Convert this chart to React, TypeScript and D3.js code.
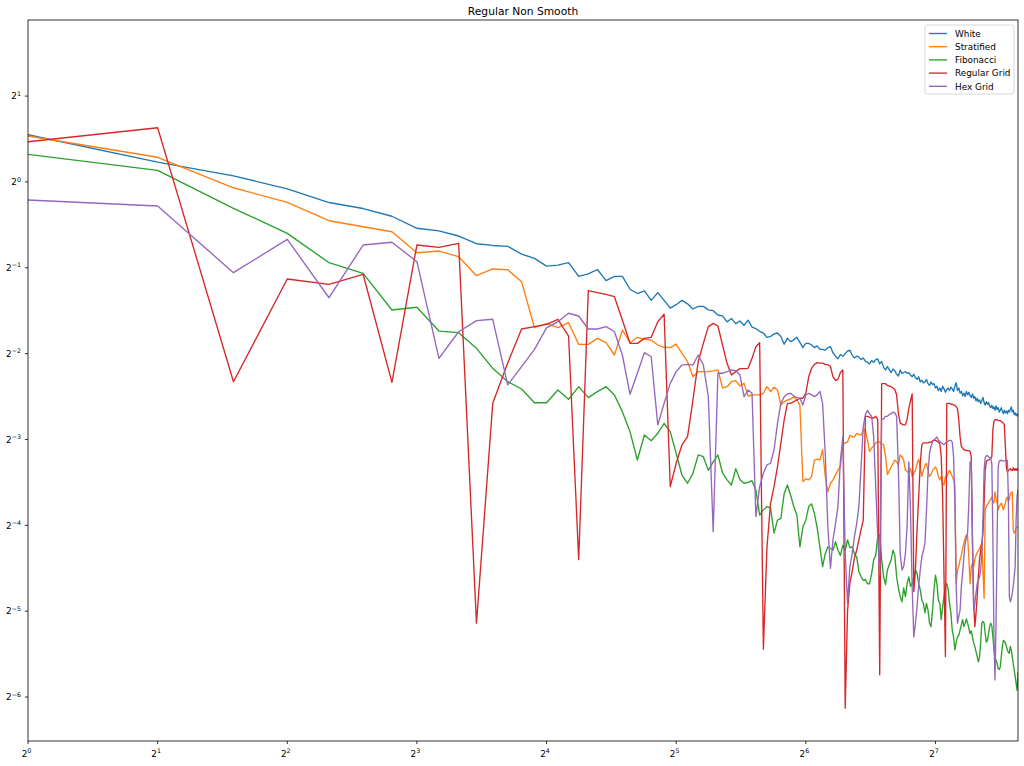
import React, { useEffect } from 'react';
import * as d3 from 'd3';

// sample index (x axis, log2 scale)
const xValues: number[] = d3.range(1, 200);

// power values, stored as log2 exponents (value = 2 ** exponent)
const whiteLog2 = [
  0.55, 0.23, 0.07, -0.08, -0.24, -0.31, -0.40, -0.54, -0.57, -0.63,
  -0.72, -0.74, -0.75, -0.84, -0.89, -0.98, -0.97, -0.94, -1.10, -1.07,
  -1.02, -1.15, -1.10, -1.10, -1.25, -1.30, -1.27, -1.38, -1.29, -1.38,
  -1.47, -1.43, -1.38, -1.42, -1.48, -1.45, -1.45, -1.49, -1.50, -1.55,
  -1.56, -1.63, -1.59, -1.65, -1.62, -1.67, -1.61, -1.69, -1.71, -1.74,
  -1.76, -1.81, -1.80, -1.77, -1.76, -1.80, -1.89, -1.82, -1.86, -1.84,
  -1.81, -1.87, -1.93, -1.88, -1.88, -1.90, -1.93, -1.91, -1.95, -1.95,
  -1.96, -1.93, -1.92, -1.99, -2.03, -2.06, -2.01, -2.03, -2.00, -1.97,
  -1.96, -2.02, -2.05, -2.03, -2.04, -2.07, -2.05, -2.09, -2.10, -2.12,
  -2.08, -2.10, -2.07, -2.06, -2.12, -2.09, -2.16, -2.19, -2.15, -2.19,
  -2.22, -2.18, -2.20, -2.24, -2.26, -2.19, -2.23, -2.22, -2.21, -2.23,
  -2.22, -2.25, -2.27, -2.24, -2.28, -2.30, -2.27, -2.33, -2.31, -2.34,
  -2.33, -2.30, -2.35, -2.37, -2.33, -2.36, -2.35, -2.40, -2.38, -2.43,
  -2.40, -2.44, -2.38, -2.41, -2.45, -2.42, -2.40, -2.43, -2.39, -2.41,
  -2.44, -2.38, -2.34, -2.43, -2.40, -2.46, -2.44, -2.49, -2.46, -2.50,
  -2.44, -2.48, -2.45, -2.49, -2.51, -2.47, -2.52, -2.50, -2.55, -2.52,
  -2.56, -2.54, -2.58, -2.55, -2.51, -2.57, -2.60, -2.56, -2.59, -2.57,
  -2.61, -2.63, -2.60, -2.64, -2.62, -2.66, -2.61, -2.65, -2.63, -2.68,
  -2.66, -2.63, -2.67, -2.70, -2.66, -2.69, -2.67, -2.70, -2.66, -2.68,
  -2.65, -2.62, -2.68, -2.66, -2.71, -2.69, -2.72, -2.70, -2.73,
];

const stratifiedLog2 = [
  0.535, 0.287, -0.068, -0.238, -0.452, -0.522, -0.58, -0.825, -0.805, -0.871,
  -1.092, -1.014, -1.023, -1.162, -1.698, -1.651, -1.698, -1.64, -1.892, -1.892,
  -1.822, -1.873, -2.016, -1.725, -1.873, -1.81, -1.83, -1.842, -1.90, -1.926,
  -1.93, -1.89, -1.996, -2.094, -2.269, -2.21, -2.21, -2.21, -2.20, -2.19,
  -2.40, -2.385, -2.327, -2.315, -2.377, -2.346, -2.494, -2.482, -2.48, -2.48,
  -2.462, -2.385, -2.443, -2.392, -2.424, -2.598, -2.56, -2.54, -2.53, -2.502,
  -2.54, -2.60, -3.49, -3.46, -3.47, -3.43, -3.24, -3.23, -3.24, -3.12,
  -3.43, -3.61, -3.51, -3.47, -3.41, -3.36, -3.32, -3.06, -3.04, -3.03,
  -2.95, -2.97, -2.97, -2.93, -2.94, -2.95, -2.89, -2.89, -3.01, -3.14,
  -3.10, -3.08, -3.04, -3.03, -3.03, -3.05, -3.06, -3.20, -3.41, -3.36,
  -3.32, -3.28, -3.24, -3.26, -3.30, -3.18, -3.20, -3.24, -3.36, -3.37,
  -3.39, -3.34, -3.43, -3.39, -3.36, -3.28, -3.23, -3.32, -3.43, -3.36,
  -3.30, -3.28, -3.36, -3.43, -3.41, -3.36, -3.34, -3.32, -3.36, -3.43,
  -3.47, -3.43, -3.51, -3.53, -3.43, -3.43, -3.39, -3.36, -3.39, -3.43,
  -3.47, -3.53, -4.68, -4.52, -4.48, -4.40, -4.35, -4.27, -4.21, -4.15,
  -4.11, -4.13, -4.37, -4.68, -4.48, -4.44, -4.48, -4.40, -4.35, -4.32,
  -4.29, -4.27, -4.24, -4.21, -4.52, -4.85, -3.82, -3.78, -3.76, -3.74,
  -3.71, -3.70, -3.67, -3.72, -3.74, -3.61, -3.69, -3.74, -3.82, -3.78,
  -3.76, -3.74, -3.78, -3.82, -3.78, -3.74, -3.69, -3.67, -3.72, -3.70,
  -3.63, -3.62, -3.61, -4.05, -4.09, -4.07, -4.03, -4.02, -4.02,
];

const fibonacciLog2 = [
  0.321, 0.135, -0.307, -0.599, -0.941, -1.065, -1.492, -1.46, -1.737, -1.756,
  -1.938, -2.171, -2.327, -2.412, -2.572, -2.572, -2.424, -2.532, -2.385, -2.513,
  -2.443, -2.385, -2.482, -2.676, -2.909, -3.239, -2.948, -3.014, -2.928, -2.812,
  -2.909, -3.161, -3.414, -3.51, -3.394, -3.18, -3.20, -3.36, -3.26, -3.18,
  -3.39, -3.47, -3.53, -3.34, -3.47, -3.51, -3.50, -3.48, -3.59, -3.88,
  -3.82, -3.78, -3.80, -4.09, -3.94, -3.92, -3.63, -3.53, -3.65, -3.78,
  -3.88, -4.25, -4.02, -3.94, -3.78, -3.75, -3.86, -4.03, -4.25, -4.48,
  -4.33, -4.25, -4.27, -4.29, -4.19, -4.29, -4.35, -4.23, -4.29, -4.17,
  -4.26, -4.25, -4.33, -4.37, -4.54, -4.60, -4.64, -4.63, -4.68, -4.68,
  -4.56, -4.40, -4.35, -4.13, -4.11, -4.40, -4.60, -4.69, -4.52, -4.46,
  -4.40, -4.29, -4.35, -4.60, -4.73, -4.83, -4.89, -4.73, -4.83, -4.68,
  -4.60, -4.71, -4.68, -4.60, -4.52, -4.56, -4.68, -4.75, -4.87, -4.91,
  -5.02, -4.91, -4.99, -5.14, -5.18, -4.99, -4.75, -4.58, -4.68, -4.87,
  -4.91, -5.10, -4.95, -4.83, -4.71, -4.68, -4.75, -4.91, -5.02, -5.22,
  -5.30, -5.45, -5.36, -5.30, -5.28, -5.22, -5.16, -5.10, -5.18, -5.14,
  -5.09, -5.14, -5.20, -5.26, -5.23, -5.30, -5.37, -5.41, -5.47, -5.53,
  -5.59, -5.53, -5.37, -5.14, -5.12, -5.14, -5.26, -5.36, -5.34, -5.26,
  -5.18, -5.14, -5.17, -5.30, -5.45, -5.55, -5.57, -5.61, -5.67, -5.68,
  -5.65, -5.53, -5.41, -5.34, -5.35, -5.37, -5.41, -5.45, -5.48, -5.49,
  -5.41, -5.45, -5.53, -5.61, -5.68, -5.76, -5.84, -5.92, -5.72,
];

const regularGridLog2 = [
  0.468, 0.631, -2.327, -1.131, -1.193, -1.076, -2.334, -0.735, -0.762, -0.715,
  -5.141, -2.579, -2.11, -1.713, -1.686, -1.659, -1.60, -1.795, -4.40, -1.267,
  -1.29, -1.31, -1.337, -1.608, -1.88, -1.88, -1.822, -1.81, -1.628, -1.542,
  -3.55, -3.277, -3.064, -2.968, -2.54, -2.094, -1.88, -1.686, -1.647, -1.678,
  -1.90, -2.113, -2.249, -2.21, -2.175, -2.175, -2.171, -2.055, -1.92, -1.873,
  -5.444, -4.25, -3.743, -3.55, -3.317, -3.045, -2.773, -2.579, -2.579, -2.56,
  -2.54, -2.52, -2.52, -2.46, -2.27, -2.17, -2.125, -2.105, -2.11, -2.11,
  -2.125, -2.13, -2.15, -2.27, -2.31, -2.30, -2.22, -2.19, -6.13, -4.99,
  -4.67, -4.54, -4.38, -4.29, -4.17, -4.05, -3.94, -2.73, -2.73, -2.74,
  -2.75, -2.75, -2.73, -2.77, -5.74, -2.35, -2.35, -2.35, -2.37, -2.38,
  -2.385, -2.40, -2.42, -2.48, -2.70, -2.81, -2.82, -2.83, -2.83, -2.76,
  -2.64, -2.55, -2.47, -4.77, -4.52, -4.05, -3.67, -3.28, -3.06, -3.04,
  -3.04, -3.04, -3.04, -3.03, -3.03, -3.02, -3.01, -3.01, -3.02, -3.03,
  -3.05, -3.20, -3.67, -4.60, -5.53, -2.58, -2.58, -2.58, -2.59, -2.59,
  -2.60, -2.60, -2.62, -2.64, -2.77, -2.97, -3.08, -3.10, -3.12, -3.12,
  -3.13, -3.13, -3.13, -3.14, -3.20, -4.21, -4.91, -5.18, -5.02, -4.83,
  -4.60, -4.40, -4.29, -4.21, -4.09, -3.74, -3.36, -3.26, -3.24, -3.24,
  -3.23, -3.22, -3.20, -2.89, -2.79, -2.77, -2.77, -2.77, -2.78, -2.78,
  -2.78, -2.79, -2.80, -2.81, -2.83, -3.08, -3.32, -3.38, -3.36, -3.35,
  -3.34, -3.36, -3.36, -3.33, -3.36, -3.34, -3.36, -3.34, -3.36,
];

const hexGridLog2 = [
  -0.211, -0.281, -1.057, -0.669, -1.349, -0.735, -0.703, -0.929, -2.055, -1.745,
  -1.616, -1.60, -2.365, -2.152, -1.95, -1.70, -1.628, -1.53, -1.562, -1.713,
  -1.713, -1.686, -1.745, -2.016, -2.474, -2.229, -1.989, -2.036, -2.831, -2.579,
  -2.346, -2.21, -2.133, -2.125, -2.133, -2.016, -2.133, -2.502, -4.074, -2.229,
  -2.229, -2.21, -2.19, -2.199, -2.249, -2.502, -2.424, -2.462, -3.899, -3.55,
  -3.394, -3.297, -3.277, -3.12, -2.812, -2.579, -2.502, -2.47, -2.462, -2.494,
  -2.509, -2.52, -2.598, -2.482, -2.462, -2.48, -2.50, -2.48, -2.44, -2.58,
  -3.16, -4.02, -4.50, -4.17, -3.98, -3.78, -3.24, -2.97, -4.33, -4.91,
  -4.48, -4.33, -4.13, -3.98, -3.78, -3.32, -2.85, -2.71, -2.66, -2.70,
  -2.73, -2.97, -3.55, -4.13, -4.56, -2.77, -2.76, -2.73, -2.73, -2.71,
  -2.70, -2.68, -2.69, -2.73, -3.36, -4.33, -4.52, -4.48, -4.33, -4.00,
  -3.26, -3.82, -4.71, -5.30, -5.14, -4.95, -4.71, -4.52, -4.37, -4.29,
  -4.21, -3.82, -3.39, -3.16, -3.08, -3.03, -3.00, -2.99, -2.97, -3.01,
  -3.02, -3.04, -3.05, -3.06, -3.04, -3.03, -3.02, -3.01, -3.01, -3.03,
  -3.20, -3.74, -4.71, -5.14, -5.06, -4.99, -4.71, -4.56, -4.37, -4.21,
  -4.15, -4.09, -3.74, -3.26, -3.26, -4.13, -4.99, -4.91, -4.79, -4.68,
  -4.64, -4.60, -4.52, -4.33, -3.94, -3.36, -3.21, -3.19, -3.19, -3.20,
  -3.21, -3.22, -3.28, -4.13, -5.30, -5.80, -5.10, -4.13, -3.32, -3.25,
  -3.25, -3.24, -3.25, -3.25, -3.25, -3.25, -3.24, -3.24, -3.67, -4.83,
  -4.89, -4.85, -4.79, -4.71, -4.60, -4.48, -3.94, -3.67, -3.59,
];

const seriesNames = ['White', 'Stratified', 'Fibonacci', 'Regular Grid', 'Hex Grid'];
const seriesLog2 = [whiteLog2, stratifiedLog2, fibonacciLog2, regularGridLog2, hexGridLog2];
const seriesColors = ['#1f77b4', '#ff7f0e', '#2ca02c', '#d62728', '#9467bd'];

const xTickExponents = [0, 1, 2, 3, 4, 5, 6, 7];
const yTickExponents = [-6, -5, -4, -3, -2, -1, 0, 1];
const yDomainExponents = [-6.512, 1.886];
const titleText = 'Regular Non Smooth';

const FONT = 'DejaVu Sans, sans-serif';

export default function App() {
  useEffect(() => {
    document.body.style.margin = '0';
  }, []);

  const W = 1024;
  const H = 766;
  const left = 28, right = 1018, top = 20, bottom = 741;

  const x = d3.scaleLog().base(2).domain([xValues[0], xValues[xValues.length - 1]]).range([left, right]);
  const y = d3
    .scaleLog()
    .base(2)
    .domain([Math.pow(2, yDomainExponents[0]), Math.pow(2, yDomainExponents[1])])
    .range([bottom, top]);

  const line = d3
    .line<[number, number]>()
    .x((d) => x(d[0]))
    .y((d) => y(d[1]));

  const paths = seriesLog2.map((arr) =>
    line(arr.map((e, i) => [xValues[i], Math.pow(2, e)] as [number, number])) || ''
  );

  const sup = (e: number) => (e < 0 ? '\u2212' + Math.abs(e) : String(e));

  const legendX = 925, legendY = 25, legendW = 89, legendH = 69;
  const tickFont = 8.9;
  const supFont = 6.3;

  return (
    <svg width={W} height={H} style={{ position: 'absolute', left: 0, top: 0, background: '#fff' }} fontFamily={FONT}>
      <rect x={0} y={0} width={W} height={H} fill="#fff" />
      <defs>
        <clipPath id="plotclip">
          <rect x={left} y={top} width={right - left} height={bottom - top} />
        </clipPath>
      </defs>
      <g clipPath="url(#plotclip)">
        {paths.map((p, i) => (
          <path key={i} d={p} fill="none" stroke={seriesColors[i]} strokeWidth={1.35} strokeLinejoin="round" strokeLinecap="square" />
        ))}
      </g>
      <rect x={left} y={top} width={right - left} height={bottom - top} fill="none" stroke="#000" strokeWidth={0.8} />
      {/* x ticks */}
      {xTickExponents.map((e) => {
        const px = x(Math.pow(2, e));
        return (
          <g key={'xt' + e}>
            <line x1={px} x2={px} y1={bottom} y2={bottom + 3.1} stroke="#000" strokeWidth={0.8} />
            <text x={px - 1.5} y={757} fontSize={tickFont} textAnchor="middle" fill="#000">
              2
              <tspan dy={-3.6} fontSize={supFont}>{sup(e)}</tspan>
            </text>
          </g>
        );
      })}
      {/* y ticks */}
      {yTickExponents.map((e) => {
        const py = y(Math.pow(2, e));
        return (
          <g key={'yt' + e}>
            <line x1={left - 3.1} x2={left} y1={py} y2={py} stroke="#000" strokeWidth={0.8} />
            <text x={21} y={py + 3.2} fontSize={tickFont} textAnchor="end" fill="#000">
              2
              <tspan dy={-3.6} fontSize={supFont}>{sup(e)}</tspan>
            </text>
          </g>
        );
      })}
      <text x={(left + right) / 2} y={15} fontSize={10.7} textAnchor="middle" fill="#000">{titleText}</text>
      {/* legend */}
      <rect x={legendX} y={legendY} width={legendW} height={legendH} rx={2.5} fill="#fff" fillOpacity={0.8} stroke="#cccccc" strokeWidth={0.8} />
      {seriesNames.map((n, i) => {
        const ly = 33.5 + i * 13.2;
        return (
          <g key={n}>
            <line x1={929} x2={947} y1={ly} y2={ly} stroke={seriesColors[i]} strokeWidth={1.35} />
            <text x={955} y={ly + 3.2} fontSize={tickFont} fill="#000">{n}</text>
          </g>
        );
      })}
    </svg>
  );
}
